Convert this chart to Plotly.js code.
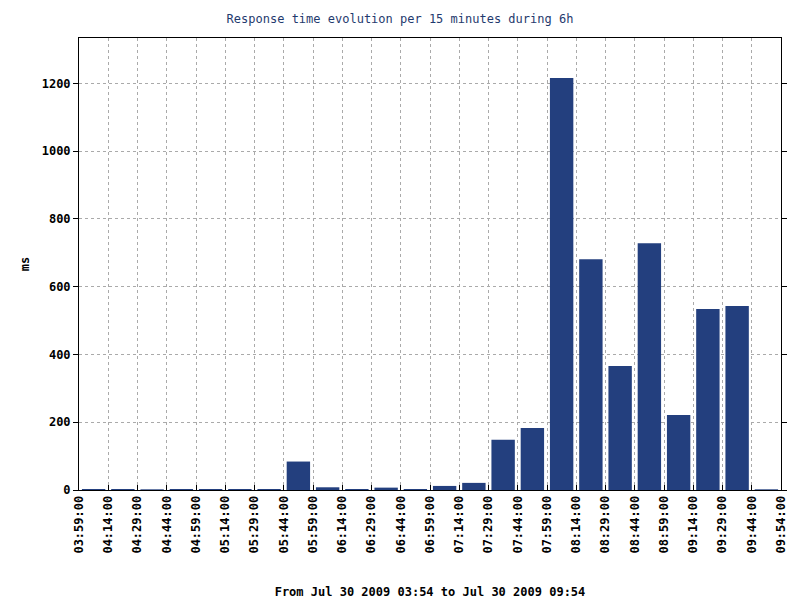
<!DOCTYPE html>
<html>
<head>
<meta charset="utf-8">
<script src="https://cdn.plot.ly/plotly-3.0.1.min.js"></script>
<style>
  body { margin: 0; background: #fff; }
  #chart { width: 800px; height: 600px; }
</style>
</head>
<body>
<div id="chart"></div>
<script>
// tick labels at each 15 minute boundary (last interval is only 10 min)
const tickLabels = ["03:59:00", "04:14:00", "04:29:00", "04:44:00", "04:59:00", "05:14:00",
  "05:29:00", "05:44:00", "05:59:00", "06:14:00", "06:29:00", "06:44:00", "06:59:00",
  "07:14:00", "07:29:00", "07:44:00", "07:59:00", "08:14:00", "08:29:00", "08:44:00",
  "08:59:00", "09:14:00", "09:29:00", "09:44:00", "09:54:00"];

// response time (ms) for each interval between two ticks
const responseMs = [3, 3, 2, 3, 3, 3, 3, 84, 8, 3, 7, 3, 12, 21, 148, 183,
  1216, 681, 366, 728, 221, 534, 543, 2];

const mono = "DejaVu Sans Mono, monospace";
const barColor = "#233f7e";

const tickPos = tickLabels.map((t, i) => i);
const barPos = responseMs.map((v, i) => i + 0.5);

const data = [{
  type: "bar",
  x: barPos,
  y: responseMs,
  width: 0.8,
  marker: { color: barColor, line: { width: 0 } },
  hoverinfo: "y"
}];

const layout = {
  width: 800,
  height: 600,
  margin: { l: 79, r: 19, t: 38, b: 110 },
  paper_bgcolor: "#fff",
  plot_bgcolor: "#fff",
  showlegend: false,
  title: {
    text: "Response time evolution per 15 minutes during 6h",
    font: { family: mono, size: 12, color: "#1f3a6e" },
    x: 0.5, xanchor: "center", y: 0.968, yanchor: "middle"
  },
  xaxis: {
    range: [0, 24],
    tickmode: "array",
    tickvals: tickPos,
    ticktext: tickLabels,
    tickangle: -90,
    tickfont: { family: mono, size: 12, color: "#000", weight: "bold" },
    ticks: "inside",
    ticklen: 5,
    tickcolor: "#000",
    showline: true,
    linecolor: "#000",
    linewidth: 1,
    mirror: true,
    showgrid: true,
    gridcolor: "#aaa",
    griddash: "dot",
    zeroline: false,
    automargin: false,
    title: {
      text: "From Jul 30 2009 03:54 to Jul 30 2009 09:54",
      font: { family: mono, size: 12, color: "#000", weight: "bold" },
      standoff: 35
    }
  },
  yaxis: {
    range: [0, 1334],
    dtick: 200,
    tick0: 0,
    tickfont: { family: mono, size: 12, color: "#000", weight: "bold" },
    ticks: "outside",
    ticklen: 5,
    tickcolor: "#000",
    showline: true,
    linecolor: "#000",
    linewidth: 1,
    mirror: "ticks",
    showgrid: true,
    gridcolor: "#aaa",
    griddash: "dot",
    zeroline: false,
    automargin: false,
    title: {
      text: "ms",
      font: { family: mono, size: 12, color: "#000", weight: "bold" },
      standoff: 9
    }
  }
};

Plotly.newPlot("chart", data, layout, { displayModeBar: false, staticPlot: true });
</script>
</body>
</html>
